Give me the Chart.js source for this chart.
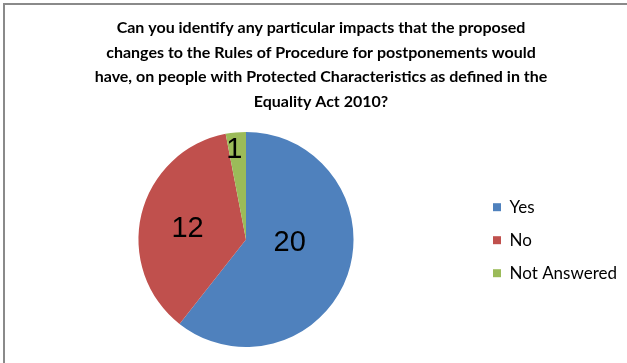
<!DOCTYPE html>
<html lang="en">
<head>
    <meta charset="UTF-8">
    <title>Postponements - Protected Characteristics</title>
    <script src="https://cdn.jsdelivr.net/npm/chart.js"></script>
    <style>
        body {
            margin: 0;
            background: #ffffff;
        }
        .frame {
            position: absolute;
            left: 3px;
            top: 3px;
            width: 624px;
            height: 360px;
            border-top: 2px solid #8a8a8a;
            border-left: 2px solid #8a8a8a;
        }
        .chart-box {
            position: absolute;
            left: 5px;
            top: 5px;
            width: 622px;
            height: 358px;
        }
    </style>
</head>
<body>
    <div class="frame"></div>
    <div class="chart-box">
        <canvas id="pieChart"></canvas>
    </div>

    <script>
        // Survey answers
        const answers = ['Yes', 'No', 'Not Answered'];
        const counts = [20, 12, 1];
        const sliceColors = ['#4f81bd', '#c0504d', '#9bbb59'];

        const titleLines = [
            'Can you identify any particular impacts that the proposed',
            'changes to the Rules of Procedure for postponements would',
            'have, on people with Protected Characteristics as defined in the',
            'Equality Act 2010?'
        ];

        // where each count sits inside its slice (fraction of radius, plus a nudge)
        const labelRadius = [0.45, 0.55, 0.86];
        const labelNudge = [[-2, -12], [-1, 3], [-3, 3]];

        // Write the counts on the slices
        const sliceLabels = {
            id: 'sliceLabels',
            afterDatasetsDraw(chart) {
                const ctx = chart.ctx;
                const meta = chart.getDatasetMeta(0);
                ctx.save();
                ctx.fillStyle = '#000';
                ctx.font = '29px "Liberation Sans", Arial, sans-serif';
                ctx.textAlign = 'center';
                ctx.textBaseline = 'middle';
                meta.data.forEach((arc, i) => {
                    const p = arc.getProps(['x', 'y', 'startAngle', 'endAngle', 'outerRadius'], true);
                    const mid = (p.startAngle + p.endAngle) / 2;
                    const r = p.outerRadius * labelRadius[i];
                    const x = p.x + Math.cos(mid) * r + labelNudge[i][0];
                    const y = p.y + Math.sin(mid) * r + labelNudge[i][1];
                    ctx.fillText(String(counts[i]), x, y);
                });
                ctx.restore();
            }
        };

        const ctx = document.getElementById('pieChart').getContext('2d');
        new Chart(ctx, {
            type: 'pie',
            data: {
                labels: answers,
                datasets: [{
                    data: counts,
                    backgroundColor: sliceColors,
                    borderWidth: 0
                }]
            },
            options: {
                responsive: true,
                maintainAspectRatio: false,
                animation: false,
                layout: {
                    padding: { top: 0, left: 10, right: 0, bottom: 16 }
                },
                plugins: {
                    title: {
                        display: true,
                        text: titleLines,
                        color: '#000',
                        font: {
                            family: 'Lato, "Liberation Sans", Arial, sans-serif',
                            size: 16,
                            weight: 'bold',
                            lineHeight: 1.53
                        },
                        padding: { top: 11, bottom: 18 }
                    },
                    legend: {
                        position: 'right',
                        // empty legend title only pushes the entries down to the pie's middle
                        title: {
                            display: true,
                            text: '',
                            padding: 57
                        },
                        labels: {
                            color: '#000',
                            boxWidth: 8,
                            boxHeight: 8,
                            padding: 16,
                            font: {
                                family: 'Lato, "Liberation Sans", Arial, sans-serif',
                                size: 17
                            }
                        }
                    },
                    tooltip: { enabled: false }
                }
            },
            plugins: [sliceLabels]
        });
    </script>
</body>
</html>
